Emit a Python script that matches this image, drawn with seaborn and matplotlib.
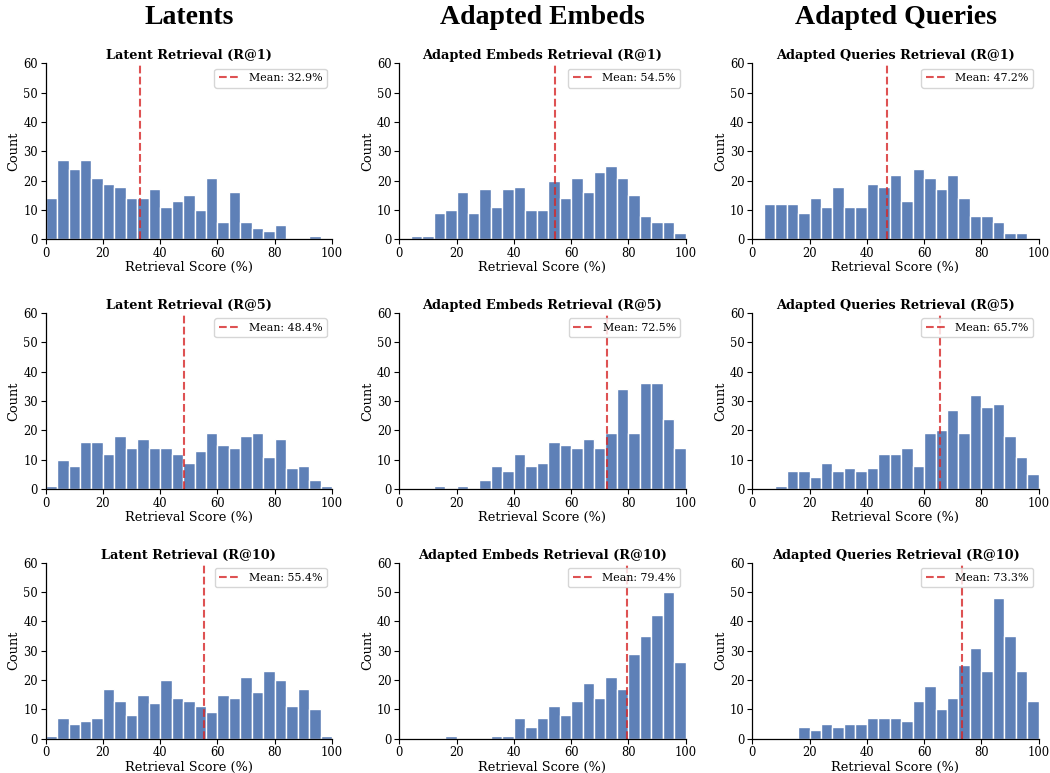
import numpy as np
import pandas as pd
import matplotlib
matplotlib.use("Agg")
import matplotlib.pyplot as plt
import seaborn as sns

# ---- data (counts per 4%-wide bin, 0..100) ----
bin_edges = list(range(0, 101, 4))

col_headers = ["Latents", "Adapted Embeds", "Adapted Queries"]
row_labels = ["R@1", "R@5", "R@10"]
title_prefix = ["Latent Retrieval", "Adapted Embeds Retrieval", "Adapted Queries Retrieval"]

latent_r1 = [14, 27, 24, 27, 21, 19, 18, 14, 14, 17, 11, 13, 15, 10, 21, 6, 16, 6, 4, 3, 5, 0, 0, 1, 0]
latent_r5 = [1, 10, 8, 16, 16, 12, 18, 14, 17, 14, 14, 12, 9, 13, 19, 15, 14, 18, 19, 11, 17, 7, 8, 3, 1]
latent_r10 = [1, 7, 5, 6, 7, 17, 13, 8, 15, 12, 20, 14, 13, 11, 9, 15, 14, 21, 16, 23, 20, 11, 17, 10, 1]

embeds_r1 = [0, 1, 1, 9, 10, 16, 9, 17, 11, 17, 18, 10, 10, 20, 14, 21, 16, 23, 25, 21, 15, 8, 6, 6, 2]
embeds_r5 = [0, 0, 0, 1, 0, 1, 0, 3, 8, 6, 12, 8, 9, 16, 15, 14, 17, 14, 19, 34, 19, 36, 36, 24, 14]
embeds_r10 = [0, 0, 0, 0, 1, 0, 0, 0, 1, 1, 7, 4, 7, 11, 8, 13, 19, 14, 21, 17, 29, 35, 42, 50, 26]

queries_r1 = [0, 12, 12, 12, 9, 14, 11, 18, 11, 11, 19, 18, 22, 13, 24, 21, 17, 22, 14, 8, 8, 6, 2, 2, 0]
queries_r5 = [0, 0, 1, 6, 6, 4, 9, 6, 7, 6, 7, 12, 12, 14, 8, 19, 20, 27, 19, 32, 28, 29, 18, 11, 5]
queries_r10 = [0, 0, 0, 0, 4, 3, 5, 4, 5, 5, 7, 7, 7, 6, 13, 18, 10, 14, 25, 31, 23, 48, 35, 23, 13]

means = [[32.9, 48.4, 55.4], [54.5, 72.5, 79.4], [47.2, 65.7, 73.3]]

counts = [
    [latent_r1, latent_r5, latent_r10],
    [embeds_r1, embeds_r5, embeds_r10],
    [queries_r1, queries_r5, queries_r10],
]

# ---- style ----
sns.set_style("ticks")
plt.rcParams["font.family"] = ["DejaVu Serif"]
plt.rcParams["text.color"] = "black"
plt.rcParams["axes.labelcolor"] = "black"
plt.rcParams["xtick.color"] = "black"
plt.rcParams["ytick.color"] = "black"

fig = plt.figure(figsize=(10.5, 7.73), dpi=100)

lefts = [0.0435, 0.3803, 0.7165]
bottoms = [0.6904, 0.3674, 0.0444]
w, h = 0.2727, 0.2277

centers = [(a + b) / 2 for a, b in zip(bin_edges[:-1], bin_edges[1:])]

for c in range(3):
    for r in range(3):
        ax = fig.add_axes([lefts[c], bottoms[r], w, h])
        df = pd.DataFrame({"score": centers, "n": counts[c][r]})
        sns.histplot(data=df, x="score", weights="n", bins=bin_edges, ax=ax,
                     color="#4C72B0", alpha=0.9, edgecolor="white", linewidth=1.0)
        ax.axvline(means[c][r], color="#d62728", alpha=0.8, linestyle="--",
                   linewidth=1.5, label=f"Mean: {means[c][r]:.1f}%")
        ax.set_xlim(0, 100)
        ax.set_ylim(0, 60)
        ax.set_xticks(range(0, 101, 20))
        ax.set_yticks(range(0, 61, 10))
        ax.tick_params(labelsize=8.3, length=3.5, width=0.8, pad=2)
        ax.set_title(f"{title_prefix[c]} ({row_labels[r]})", fontsize=9.3,
                     fontweight="bold", pad=3)
        ax.set_xlabel("Retrieval Score (%)", fontsize=9.3, labelpad=1)
        ax.set_ylabel("Count", fontsize=9.3, labelpad=2)
        ax.legend(loc="upper right", fontsize=7.9, handlelength=2.0,
                  borderpad=0.4, handletextpad=0.7)
        sns.despine(ax=ax)
        for sp in ax.spines.values():
            sp.set_color("black")
            sp.set_linewidth(0.9)

for c in range(3):
    fig.text(lefts[c] + w / 2, 0.978, col_headers[c], ha="center", va="center",
             fontsize=20, fontweight="bold", family=["Liberation Serif"])

fig.savefig("out.png", dpi=100)
